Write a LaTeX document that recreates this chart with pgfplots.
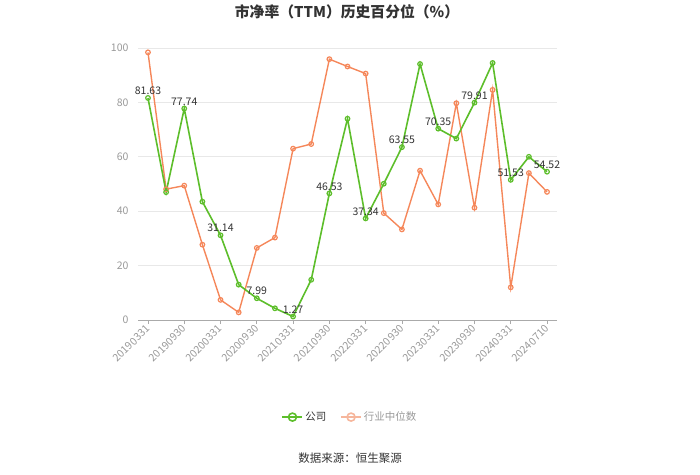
\documentclass[border=0pt]{standalone}
\usepackage{pgfplots}
\usepackage{pgfplotstable}
\pgfplotsset{compat=1.18}
\usepackage{fontspec}
\setmainfont{Noto Sans CJK SC}
\definecolor{cgreen}{HTML}{5DBE2B}
\definecolor{corange}{HTML}{F5875A}
\definecolor{corangelight}{HTML}{F6B69C}
\definecolor{tickgray}{HTML}{999999}
\definecolor{txt}{HTML}{333333}
\definecolor{gridc}{HTML}{E8E8E8}
\definecolor{axisc}{HTML}{AAAAAA}

\pgfplotstableread{
x y
0 81.63
1 47.0
2 77.74
3 43.5
4 31.14
5 13.0
6 7.99
7 4.3
8 1.27
9 14.8
10 46.53
11 74.0
12 37.34
13 50.1
14 63.55
15 94.1
16 70.35
17 66.7
18 79.91
19 94.5
20 51.53
21 60.0
22 54.52
}\company

\pgfplotstableread{
x y lbl
0 81.63 81.63
2 77.74 77.74
4 31.14 31.14
6 7.99 7.99
8 1.27 1.27
10 46.53 46.53
12 37.34 37.34
14 63.55 63.55
16 70.35 70.35
18 79.91 79.91
20 51.53 51.53
22 54.52 54.52
}\companylabels

\pgfplotstableread{
x y
0 98.4
1 48.1
2 49.4
3 27.7
4 7.4
5 2.8
6 26.5
7 30.3
8 63.0
9 64.7
10 95.9
11 93.2
12 90.6
13 39.3
14 33.3
15 54.9
16 42.5
17 79.7
18 41.3
19 84.6
20 12.0
21 54.0
22 47.1
}\industry

\begin{document}
\begin{tikzpicture}[x=1pt,y=1pt]
\path[use as bounding box] (0,0) rectangle (700,474);
\node[font=\fontsize{14.8}{17}\selectfont\bfseries, text=txt] at (347,462) {市净率（TTM）历史百分位（\%）};
\begin{axis}[
  at={(138pt,154pt)}, anchor=south west,
  scale only axis, width=419pt, height=272pt,
  xmin=-0.55, xmax=22.55, ymin=0, ymax=100,
  ytick={0,20,...,100},
  xtick={0,2,...,22},
  xticklabels={20190331,20190930,20200331,20200930,20210331,20210930,20220331,20220930,20230331,20230930,20240331,20240710},
  axis lines*=left,
  y axis line style={draw=none},
  x axis line style={draw=axisc, line width=0.8pt},
  ytick style={draw=none},
  xtick style={draw=axisc, line width=0.8pt},
  tick align=outside,
  major tick length=4pt,
  ymajorgrids, grid style={gridc, line width=0.8pt},
  /pgf/number format/assume math mode=true,
  tick label style={font=\fontsize{10.5}{12}\selectfont, text=tickgray},
  x tick label style={rotate=45, anchor=east, inner sep=2pt, yshift=-2pt},
  y tick label style={xshift=-2pt},
  clip=false,
  legend style={at={(0.506,-0.357)}, anchor=center, draw=none, fill=none,
    legend columns=2, font=\fontsize{10.5}{13}\selectfont,
    /tikz/every even column/.append style={column sep=12pt}},
  legend image code/.code={\draw[#1, mark repeat=2, mark phase=2] plot coordinates {(0pt,0pt) (10pt,0pt) (20pt,0pt)};},
]
\addplot[color=corange, line width=1.4pt, mark=o, mark size=2.3pt, mark options={fill=white, line width=1.2pt}, forget plot] table[x=x,y=y]{\industry};
\addplot[color=cgreen, line width=1.6pt, mark=o, mark size=2.3pt, mark options={fill=white, line width=1.2pt}, forget plot] table[x=x,y=y]{\company};
\addplot[draw=none, mark=none, forget plot, nodes near coords, point meta=explicit symbolic,
  every node near coord/.append style={font=\fontsize{10.5}{12}\selectfont, text=txt, anchor=south, inner sep=2pt, yshift=1pt}]
  table[x=x,y=y,meta=lbl]{\companylabels};
\addlegendimage{color=cgreen, line width=1.6pt, mark=o, mark size=4pt, mark options={fill=white, line width=1.6pt}}
\addlegendentry[text=txt]{公司}
\addlegendimage{color=corangelight, line width=1.6pt, mark=o, mark size=4pt, mark options={fill=white, line width=1.6pt}}
\addlegendentry[text=tickgray]{行业中位数}
\end{axis}
\node[font=\fontsize{11.5}{13}\selectfont, text=txt] at (350,16) {数据来源：恒生聚源};
\end{tikzpicture}
\end{document}
